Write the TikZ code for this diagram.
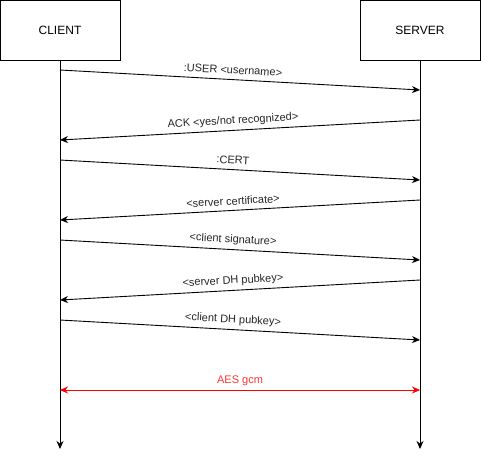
\documentclass[tikz,border=0pt]{standalone}
\usepackage{fontspec}
\setmainfont{Liberation Sans}
\usetikzlibrary{arrows.meta,calc}
\definecolor{aesred}{HTML}{FF0000}
\definecolor{aeslbl}{HTML}{FF3333}
\tikzset{
  x=1pt,y=-1pt,
  actor/.style={draw=black,line width=0.8pt,minimum width=120pt,minimum height=60pt,inner sep=0pt,font=\fontsize{12}{14}\selectfont},
  life/.style={draw=black,line width=0.9pt,-{Stealth[length=8pt,width=7pt]}},
  msg/.style={draw=black,line width=0.9pt,-{Stealth[length=8pt,width=7pt]}},
  lbl/.style={font=\fontsize{11}{13}\selectfont,inner sep=0pt,text=black!85},
  aes/.style={draw=aesred,line width=0.9pt,{Stealth[length=8pt,width=7pt]}-{Stealth[length=8pt,width=7pt]}},
}
\begin{document}
\begin{tikzpicture}
\useasboundingbox (0,0) rectangle (481,459);
\node[actor] (client) at (60,30) {CLIENT};
\node[actor] (server) at (420,30) {SERVER};
\coordinate (cend) at (60,449);
\coordinate (send) at (420,449);
\draw[life] (client.south) -- (cend);
\draw[life] (server.south) -- (send);
% message endpoints
\foreach \n/\y in {1/70,2/120,3/160,4/200,5/240,6/280,7/320}{
  \coordinate (c\n) at (60,\y);
  \coordinate (s\n) at (420,\y);
  \coordinate (cc\n) at (60,\y+20);
  \coordinate (ss\n) at (420,\y+20);
}
\draw[msg] (c1) -- (ss1);
\draw[msg] (s2) -- (cc2);
\draw[msg] (c3) -- (ss3);
\draw[msg] (s4) -- (cc4);
\draw[msg] (c5) -- (ss5);
\draw[msg] (s6) -- (cc6);
\draw[msg] (c7) -- (ss7);
\node[lbl,rotate=-3.18] (l1) at (233,70) {:USER <username>};
\node[lbl,rotate=3.18] (l2) at (233,121) {ACK <yes/not recognized>};
\node[lbl,rotate=-3.18] (l3) at (233,160) {:CERT};
\node[lbl,rotate=3.18] (l4) at (233,201) {<server certificate>};
\node[lbl,rotate=-3.18] (l5) at (233,240) {<client signature>};
\node[lbl,rotate=3.18] (l6) at (233,281) {<server DH pubkey>};
\node[lbl,rotate=-3.18] (l7) at (233,320) {<client DH pubkey>};
\coordinate (ca) at (60,390);
\coordinate (sa) at (420,390);
\draw[aes] (ca) -- (sa);
\node[lbl,text=aeslbl] (l8) at (240,381) {AES gcm};
\end{tikzpicture}
\end{document}
